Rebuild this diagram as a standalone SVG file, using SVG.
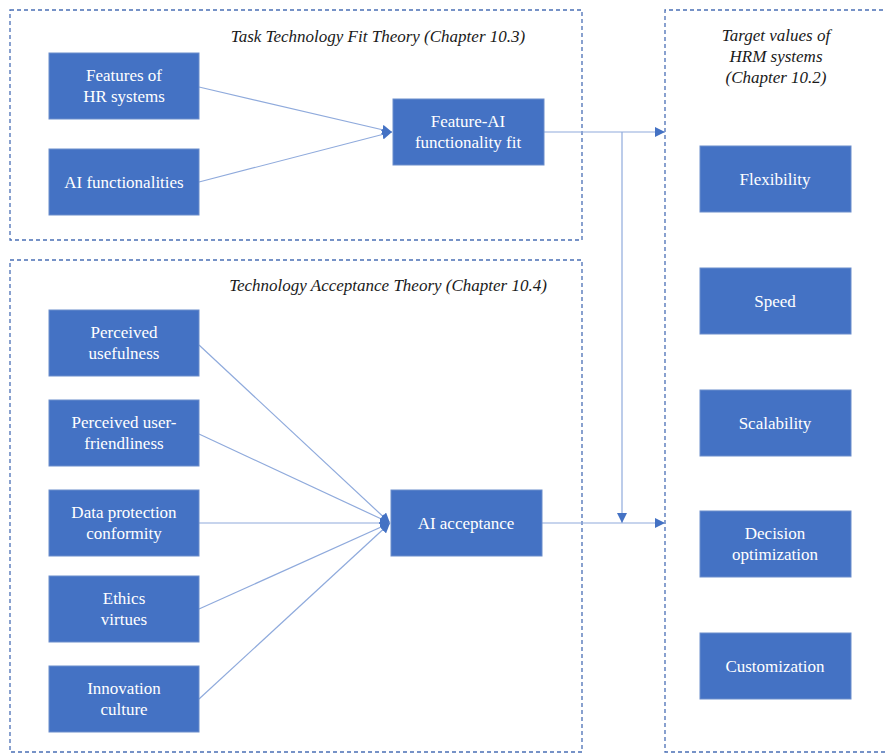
<svg xmlns="http://www.w3.org/2000/svg" width="885" height="754" viewBox="0 0 885 754">
  <style>
    .frame { fill: none; stroke: #4A6FB5; stroke-width: 1.3; stroke-dasharray: 4 3; }
    .box { fill: #4472C4; stroke: #6B8DCB; stroke-width: 1; }
    text { font-family: 'Liberation Serif', 'DejaVu Serif', serif; font-size: 17px; text-anchor: middle; }
    .lbl { fill: #FFFFFF; }
    .title { font-style: italic; fill: #1A1A1A; }
    .link { fill: none; stroke: #8FAADC; stroke-width: 1.2; marker-end: url(#arrow); }
  </style>
  <defs>
    <marker id="arrow" viewBox="0 0 10 10" refX="10" refY="5" markerWidth="10" markerHeight="10" markerUnits="userSpaceOnUse" orient="auto">
      <path d="M0,0 L10,5 L0,10 Z" fill="#4472C4"/>
    </marker>
  </defs>
  <rect width="885" height="754" fill="#FFFFFF"/>

  <!-- theory frames -->
  <g id="frame-ttf">
    <rect class="frame" x="10" y="10" width="572" height="230"/>
    <text class="title" x="378" y="42">Task Technology Fit Theory (Chapter 10.3)</text>
  </g>
  <g id="frame-tat">
    <rect class="frame" x="10" y="260" width="572" height="492"/>
    <text class="title" x="388" y="291">Technology Acceptance Theory (Chapter 10.4)</text>
  </g>
  <g id="frame-targets">
    <path class="frame" d="M890,10 H665 V752 H890"/>
    <text class="title" x="776" y="41">Target values of</text>
    <text class="title" x="776" y="62">HRM systems</text>
    <text class="title" x="776" y="83">(Chapter 10.2)</text>
  </g>

  <!-- connectors -->
  <g id="connectors">
    <line class="link" x1="199" y1="87" x2="392" y2="132"/>
    <line class="link" x1="199" y1="182" x2="392" y2="132"/>
    <line class="link" x1="199" y1="345" x2="390" y2="523"/>
    <line class="link" x1="199" y1="434" x2="390" y2="523"/>
    <line class="link" x1="199" y1="523" x2="390" y2="523"/>
    <line class="link" x1="199" y1="609" x2="390" y2="523"/>
    <line class="link" x1="199" y1="699" x2="390" y2="523"/>
    <line class="link" x1="544" y1="132" x2="665" y2="132"/>
    <line class="link" x1="622" y1="132" x2="622" y2="523"/>
    <line class="link" x1="542" y1="523" x2="665" y2="523"/>
  </g>

  <!-- task technology fit nodes -->
  <g id="features-hr">
    <rect class="box" x="49" y="53" width="150" height="66"/>
    <text class="lbl" x="124" y="81">Features of</text>
    <text class="lbl" x="124" y="102">HR systems</text>
  </g>
  <g id="ai-functionalities">
    <rect class="box" x="49" y="149" width="150" height="66"/>
    <text class="lbl" x="124" y="188">AI functionalities</text>
  </g>
  <g id="feature-ai-fit">
    <rect class="box" x="393" y="99" width="151" height="66"/>
    <text class="lbl" x="468" y="127">Feature-AI</text>
    <text class="lbl" x="468" y="148">functionality fit</text>
  </g>

  <!-- technology acceptance nodes -->
  <g id="perceived-usefulness">
    <rect class="box" x="49" y="310" width="150" height="66"/>
    <text class="lbl" x="124" y="338">Perceived</text>
    <text class="lbl" x="124" y="359">usefulness</text>
  </g>
  <g id="perceived-user-friendliness">
    <rect class="box" x="49" y="400" width="150" height="66"/>
    <text class="lbl" x="124" y="428">Perceived user-</text>
    <text class="lbl" x="124" y="449">friendliness</text>
  </g>
  <g id="data-protection">
    <rect class="box" x="49" y="490" width="150" height="66"/>
    <text class="lbl" x="124" y="518">Data protection</text>
    <text class="lbl" x="124" y="539">conformity</text>
  </g>
  <g id="ethics-virtues">
    <rect class="box" x="49" y="576" width="150" height="66"/>
    <text class="lbl" x="124" y="604">Ethics</text>
    <text class="lbl" x="124" y="625">virtues</text>
  </g>
  <g id="innovation-culture">
    <rect class="box" x="49" y="666" width="150" height="66"/>
    <text class="lbl" x="124" y="694">Innovation</text>
    <text class="lbl" x="124" y="715">culture</text>
  </g>
  <g id="ai-acceptance">
    <rect class="box" x="391" y="490" width="151" height="66"/>
    <text class="lbl" x="466" y="529">AI acceptance</text>
  </g>

  <!-- target value nodes -->
  <g id="flexibility">
    <rect class="box" x="700" y="146" width="151" height="66"/>
    <text class="lbl" x="775" y="185">Flexibility</text>
  </g>
  <g id="speed">
    <rect class="box" x="700" y="268" width="151" height="66"/>
    <text class="lbl" x="775" y="307">Speed</text>
  </g>
  <g id="scalability">
    <rect class="box" x="700" y="390" width="151" height="66"/>
    <text class="lbl" x="775" y="429">Scalability</text>
  </g>
  <g id="decision-optimization">
    <rect class="box" x="700" y="511" width="151" height="66"/>
    <text class="lbl" x="775" y="539">Decision</text>
    <text class="lbl" x="775" y="560">optimization</text>
  </g>
  <g id="customization">
    <rect class="box" x="700" y="633" width="151" height="66"/>
    <text class="lbl" x="775" y="672">Customization</text>
  </g>
</svg>
